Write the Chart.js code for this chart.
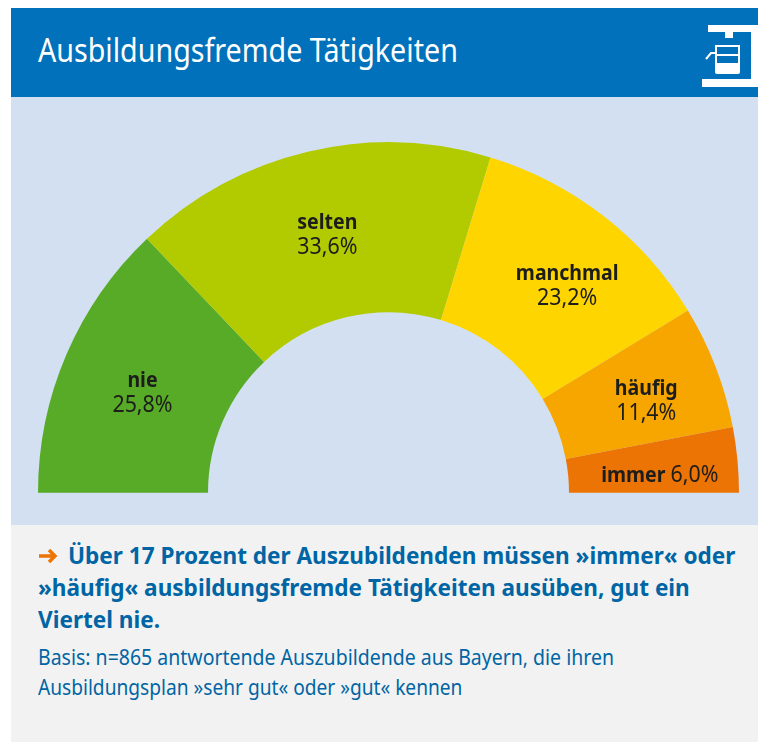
<!DOCTYPE html>
<html lang="de"><head><meta charset="utf-8">
<script src="https://cdn.jsdelivr.net/npm/chart.js@4"></script>
<style>
html,body{margin:0;padding:0;background:#fff;width:758px;height:742px;overflow:hidden}
#panel{position:absolute;left:11px;top:8px;width:747px;height:734px;font-family:"Noto Sans",sans-serif}
#head{position:absolute;left:0;top:0;width:747px;height:89px;background:#0071BA}
#head h1{position:absolute;left:27px;top:20px;margin:0;font-size:33px;line-height:44px;font-weight:400;color:#fff;white-space:nowrap;transform-origin:0 50%;transform:scaleX(.868)}
#plot{position:absolute;left:0;top:89px;width:747px;height:428px;background:#D3E0F2}
#foot{position:absolute;left:0;top:517px;width:747px;height:217px;background:#F2F2F2;color:#0065A4}
#canvasBox{position:absolute;left:38px;top:142px;width:701px;height:351px}
.t{position:absolute;white-space:nowrap;transform-origin:0 50%}
.lead{font-size:24px;line-height:32px;font-weight:700;transform:scaleX(.94)}
.basis{font-size:22px;line-height:30px;font-weight:400;transform:scaleX(.886)}
</style></head><body>
<div id="panel">
<div id="head"><h1>Ausbildungsfremde Tätigkeiten</h1></div>
<div id="plot"></div>
<div id="foot">
<svg width="20" height="16" viewBox="0 0 20 16" style="position:absolute;left:27px;top:23px"><path d="M1 8H16M11 2L17 8L11 14" fill="none" stroke="#EC7404" stroke-width="3.4"/></svg>
<div class="t lead" style="left:57px;top:14px">Über 17 Prozent der Auszubildenden müssen »immer« oder</div>
<div class="t lead" style="left:27px;top:46px">»häufig« ausbildungsfremde Tätigkeiten ausüben, gut ein</div>
<div class="t lead" style="left:27px;top:78px">Viertel nie.</div>
<div class="t basis" style="left:27px;top:116px">Basis: n=865 antwortende Auszubildende aus Bayern, die ihren</div>
<div class="t basis" style="left:27px;top:146px;transform:scaleX(.87)">Ausbildungsplan »sehr gut« oder »gut« kennen</div>
</div>
</div>
<svg width="758" height="742" style="position:absolute;left:0;top:0;pointer-events:none" fill="#fff">
<rect x="708" y="25" width="50" height="7"/><rect x="751" y="25" width="7" height="62"/>
<rect x="702" y="79" width="56" height="8"/><rect x="725" y="32" width="8" height="6"/>
<path d="M716 46H739V70Q739 73 736 73H719Q716 73 716 70Z" fill="none" stroke="#fff" stroke-width="2"/>
<rect x="715" y="63" width="25" height="11" rx="2"/><rect x="715" y="54" width="25" height="2"/>
<path d="M716 53H711L706 59" fill="none" stroke="#fff" stroke-width="2"/>
</svg>
<div id="canvasBox"><canvas id="c" width="701" height="351"></canvas></div>
<script>
const categories = ["nie","selten","manchmal","häufig","immer"];
const shares = [25.8,33.6,23.2,11.4,6.0];
const shareLabels = ["25,8%","33,6%","23,2%","11,4%","6,0%"];
const colours = ["#58AB27","#B2CB00","#FFD500","#F7A600","#EC7405"];
const labelShift = [[-2,5],[0,1],[16,3],[10,4],[7,8]];
const FONT = '"Noto Sans", sans-serif';
const SQUEEZE = 0.93;
function squeezed(ctx,text,x,y,font,align){
  ctx.save(); ctx.font=font; ctx.textAlign=align;
  ctx.translate(x,y); ctx.scale(SQUEEZE,1); ctx.fillText(text,0,0); ctx.restore();
}
const sliceLabels = {
  id:"sliceLabels",
  afterDatasetsDraw(chart){
    const ctx = chart.ctx;
    ctx.save(); ctx.fillStyle="#1d1d1b"; ctx.textBaseline="middle";
    chart.getDatasetMeta(0).data.forEach((arc,i)=>{
      const p = arc.getCenterPoint();
      const x = p.x+labelShift[i][0], y = p.y+labelShift[i][1];
      const bold = "700 21px "+FONT, reg = "400 23px "+FONT;
      if(categories[i]==="immer"){
        ctx.font=bold; const a=ctx.measureText(categories[i]+" ").width*SQUEEZE;
        ctx.font=reg; const b=ctx.measureText(shareLabels[i]).width*SQUEEZE;
        const l=x-(a+b)/2;
        squeezed(ctx,categories[i],l,y,bold,"left");
        squeezed(ctx,shareLabels[i],l+a,y,reg,"left");
      } else {
        squeezed(ctx,categories[i],x,y-12,bold,"center");
        squeezed(ctx,shareLabels[i],x,y+12,reg,"center");
      }
    });
    ctx.restore();
  }
};
new Chart(document.getElementById("c"),{
  type:"doughnut",
  data:{labels:categories,datasets:[{data:shares,backgroundColor:colours,borderWidth:0}]},
  options:{responsive:false,animation:false,rotation:-90,circumference:180,cutout:"51.5%",
    layout:{padding:0},
    plugins:{legend:{display:false},tooltip:{enabled:false}}},
  plugins:[sliceLabels]
});
</script>
</body></html>
